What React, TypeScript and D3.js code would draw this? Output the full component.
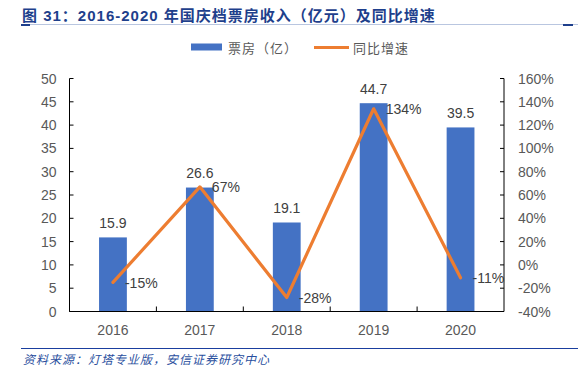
import React from 'react'
import * as d3 from 'd3'

const years = ['2016', '2017', '2018', '2019', '2020']
const boxOffice = [15.9, 26.6, 19.1, 44.7, 39.5]
const growth = [-15, 67, -28, 134, -11]
const leftTicks = [0, 5, 10, 15, 20, 25, 30, 35, 40, 45, 50]
const rightTicks = [-40, -20, 0, 20, 40, 60, 80, 100, 120, 140, 160]

const W = 578
const H = 374
const plot = { left: 69.5, right: 504, top: 78.5, bottom: 311.5 }
const tickFont = '"Liberation Sans", Arial, sans-serif'
const cjkFont = '"Noto Sans CJK SC", sans-serif'
const titleFont = '"Liberation Sans", "Noto Sans CJK SC", sans-serif'
const gray = '#595959'
const blue = '#4472C4'
const orange = '#ED7D31'
const navy = '#1E3F8C'

export default function App () {
  const x = d3.scaleBand().domain(years).range([plot.left, plot.right])
  const yL = d3.scaleLinear().domain([0, 50]).range([plot.bottom, plot.top])
  const yR = d3.scaleLinear().domain([-40, 160]).range([plot.bottom, plot.top])
  const barW = x.bandwidth() * 0.32
  const cx = (yr: string) => (x(yr) as number) + x.bandwidth() / 2

  const line = d3.line<number>()
    .x((_, i) => cx(years[i]))
    .y(d => yR(d))

  return (
    <svg width={W} height={H} style={{ position: 'absolute', left: 0, top: 0, background: '#fff' }}>
      {/* title */}
      <text x={22} y={20.5} fill={navy} fontFamily={titleFont} fontWeight={700} fontSize={15} letterSpacing={1}>
        图 31：2016-2020 年国庆档票房收入（亿元）及同比增速
      </text>
      <line x1={21} x2={W} y1={24.5} y2={24.5} stroke="#B9C6E0" strokeWidth={1.2} />
      <line x1={21} x2={30} y1={25} y2={25} stroke={navy} strokeWidth={2} />
      <line x1={563} x2={573} y1={25} y2={25} stroke={navy} strokeWidth={2} />

      {/* legend */}
      <rect x={191} y={43.5} width={31} height={7} fill={blue} />
      <text x={228} y={52.5} fill={gray} fontFamily={cjkFont} fontSize={13} letterSpacing={1}>票房（亿）</text>
      <line x1={314} x2={349} y1={47.5} y2={47.5} stroke={orange} strokeWidth={3} />
      <text x={353} y={52.5} fill={gray} fontFamily={cjkFont} fontSize={13} letterSpacing={1}>同比增速</text>

      {/* bars */}
      {boxOffice.map((v, i) => (
        <g key={years[i]}>
          <rect x={cx(years[i]) - barW / 2} y={yL(v)} width={barW} height={plot.bottom - yL(v)} fill={blue} />
          <text x={cx(years[i])} y={yL(v) - 9.5} textAnchor="middle" fill="#404040" fontFamily={tickFont} fontSize={14}>
            {v.toFixed(1)}
          </text>
        </g>
      ))}

      {/* line */}
      <path d={line(growth) as string} fill="none" stroke={orange} strokeWidth={3.2} strokeLinejoin="round" strokeLinecap="round" />
      {growth.map((v, i) => (
        <text key={years[i]} x={cx(years[i]) + 12} y={yR(v) + 5.5} fill="#404040" fontFamily={tickFont} fontSize={14}>
          {v}%
        </text>
      ))}

      {/* axes */}
      <g stroke="#000" strokeWidth={1} fill="none">
        <line x1={plot.left} x2={plot.left} y1={plot.top} y2={plot.bottom} />
        <line x1={plot.right} x2={plot.right} y1={plot.top} y2={plot.bottom} />
        <line x1={plot.left} x2={plot.right} y1={plot.bottom} y2={plot.bottom} />
        {leftTicks.map(t => (
          <line key={t} x1={plot.left} x2={plot.left + 4} y1={yL(t)} y2={yL(t)} />
        ))}
        {rightTicks.map(t => (
          <line key={t} x1={plot.right - 4} x2={plot.right} y1={yR(t)} y2={yR(t)} />
        ))}
        {years.map(yr => (
          <line key={yr} x1={x(yr) as number} x2={x(yr) as number} y1={plot.bottom - 5} y2={plot.bottom} />
        ))}
      </g>
      {leftTicks.map(t => (
        <text key={t} x={plot.left - 13} y={yL(t) + 5} textAnchor="end" fill={gray} fontFamily={tickFont} fontSize={14}>{t}</text>
      ))}
      {rightTicks.map(t => (
        <text key={t} x={plot.right + 14} y={yR(t) + 5} fill={gray} fontFamily={tickFont} fontSize={14}>{t}%</text>
      ))}
      {years.map(yr => (
        <text key={yr} x={cx(yr)} y={plot.bottom + 23.5} textAnchor="middle" fill={gray} fontFamily={tickFont} fontSize={14}>{yr}</text>
      ))}

      {/* footer */}
      <line x1={21} x2={W} y1={348.5} y2={348.5} stroke="#1A3E9E" strokeWidth={1.2} />
      <text x={23} y={364} fill="#2A4F9E" fontFamily={cjkFont} fontStyle="italic" fontSize={12} letterSpacing={1}>
        资料来源：灯塔专业版，安信证券研究中心
      </text>
    </svg>
  )
}
